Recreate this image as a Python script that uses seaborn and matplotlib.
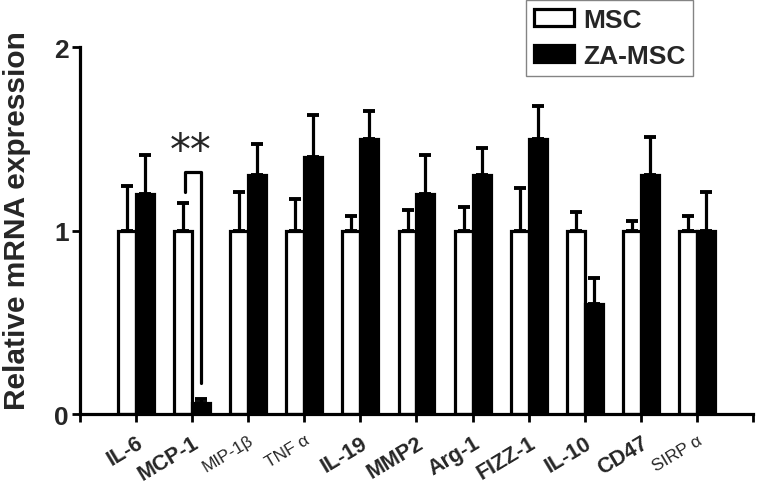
import numpy as np
import pandas as pd
import matplotlib
matplotlib.use("Agg")
import matplotlib.pyplot as plt
import matplotlib.transforms as mtransforms
import seaborn as sns

# data
genes = ["IL-6", "MCP-1", "MIP-1β", "TNF α", "IL-19", "MMP2",
         "Arg-1", "FIZZ-1", "IL-10", "CD47", "SIRP α"]
msc_mean = [1.0, 1.0, 1.0, 1.0, 1.0, 1.0, 1.0, 1.0, 1.0, 1.0, 1.0]
msc_err = [0.24, 0.15, 0.21, 0.17, 0.08, 0.11, 0.13, 0.23, 0.10, 0.05, 0.08]
za_mean = [1.20, 0.06, 1.30, 1.40, 1.50, 1.20, 1.30, 1.50, 0.60, 1.30, 1.00]
za_err = [0.21, 0.02, 0.17, 0.23, 0.15, 0.21, 0.15, 0.18, 0.14, 0.21, 0.21]
groups = ["MSC", "ZA-MSC"]
small_labels = ["MIP-1β", "TNF α", "SIRP α"]

sns.set_style("ticks")
plt.rcParams["font.family"] = ["Liberation Sans", "DejaVu Sans"]
plt.rcParams["font.weight"] = "bold"

df = pd.DataFrame({
    "gene": genes * 2,
    "group": [groups[0]] * len(genes) + [groups[1]] * len(genes),
    "value": msc_mean + za_mean,
})

fig = plt.figure(figsize=(7.58, 4.85), dpi=100)
ax = fig.add_axes([0.1055, 0.1443, 0.8879, 0.7567])

sns.barplot(data=df, x="gene", y="value", hue="group", order=genes,
            hue_order=groups, palette=["white", "black"], width=0.64,
            gap=0, edgecolor="black", linewidth=2.3, errorbar=None,
            saturation=1, ax=ax)

# upper error bars only
for cont, err in zip(ax.containers, [msc_err, za_err]):
    xs = [p.get_x() + p.get_width() / 2 for p in cont.patches]
    ys = [p.get_height() for p in cont.patches]
    ax.errorbar(xs, ys, yerr=[np.zeros(len(err)), err], fmt="none",
                ecolor="black", elinewidth=2.3, capsize=4.2, capthick=2.8,
                zorder=1)

# significance bracket for MCP-1
c0 = ax.containers[0].patches[1]
c1 = ax.containers[1].patches[1]
xl = c0.get_x() + c0.get_width() / 2 + 0.03
xr = c1.get_x() + c1.get_width() / 2
ax.plot([xl, xl, xr, xr], [1.21, 1.32, 1.32, 0.17], color="black", lw=2.3,
        solid_capstyle="round")
ax.text((xl + xr) / 2 - 0.05, 1.435, "**", ha="center", va="center",
        fontsize=30, fontweight="normal", family="DejaVu Sans")

ax.set_ylim(0, 2)
ax.set_xlim(-1, 11)
ax.set_yticks([0, 1, 2])
ax.set_yticklabels(["0", "1", "2"], fontsize=19, fontweight="bold")
ax.set_xticks(np.arange(-1, 12))
ax.set_xticklabels([""] + genes + [""])
shift = mtransforms.ScaledTranslation(10 / 100, 0, fig.dpi_scale_trans)
for lab in ax.get_xticklabels():
    txt = lab.get_text()
    lab.set_rotation(31)
    lab.set_ha("right")
    lab.set_va("top")
    lab.set_rotation_mode("anchor")
    lab.set_transform(lab.get_transform() + shift)
    if txt in small_labels:
        lab.set_fontsize(12.5)
        lab.set_fontweight("normal")
    else:
        lab.set_fontsize(15.5)
        lab.set_fontweight("bold")
ax.tick_params(axis="both", width=2, length=6, color="black", pad=2)
ax.tick_params(axis="x", pad=7)

ax.set_xlabel("")
ax.set_ylabel("Relative mRNA expression", fontsize=21.5, fontweight="bold")
ax.yaxis.set_label_coords(-0.073, 0.53)
for s in ["left", "bottom"]:
    ax.spines[s].set_linewidth(2.3)
    ax.spines[s].set_color("black")
sns.despine(ax=ax)

leg = ax.legend(loc="upper left", bbox_to_anchor=(0.663, 1.128),
                frameon=True, fancybox=False, edgecolor="#666666",
                fontsize=19, handlelength=1.5, handleheight=0.65,
                borderpad=0.3, labelspacing=0.45, handletextpad=0.35,
                borderaxespad=0)
leg.get_frame().set_linewidth(1.0)
for t in leg.get_texts():
    t.set_fontweight("bold")

fig.savefig("out.png", dpi=100)
